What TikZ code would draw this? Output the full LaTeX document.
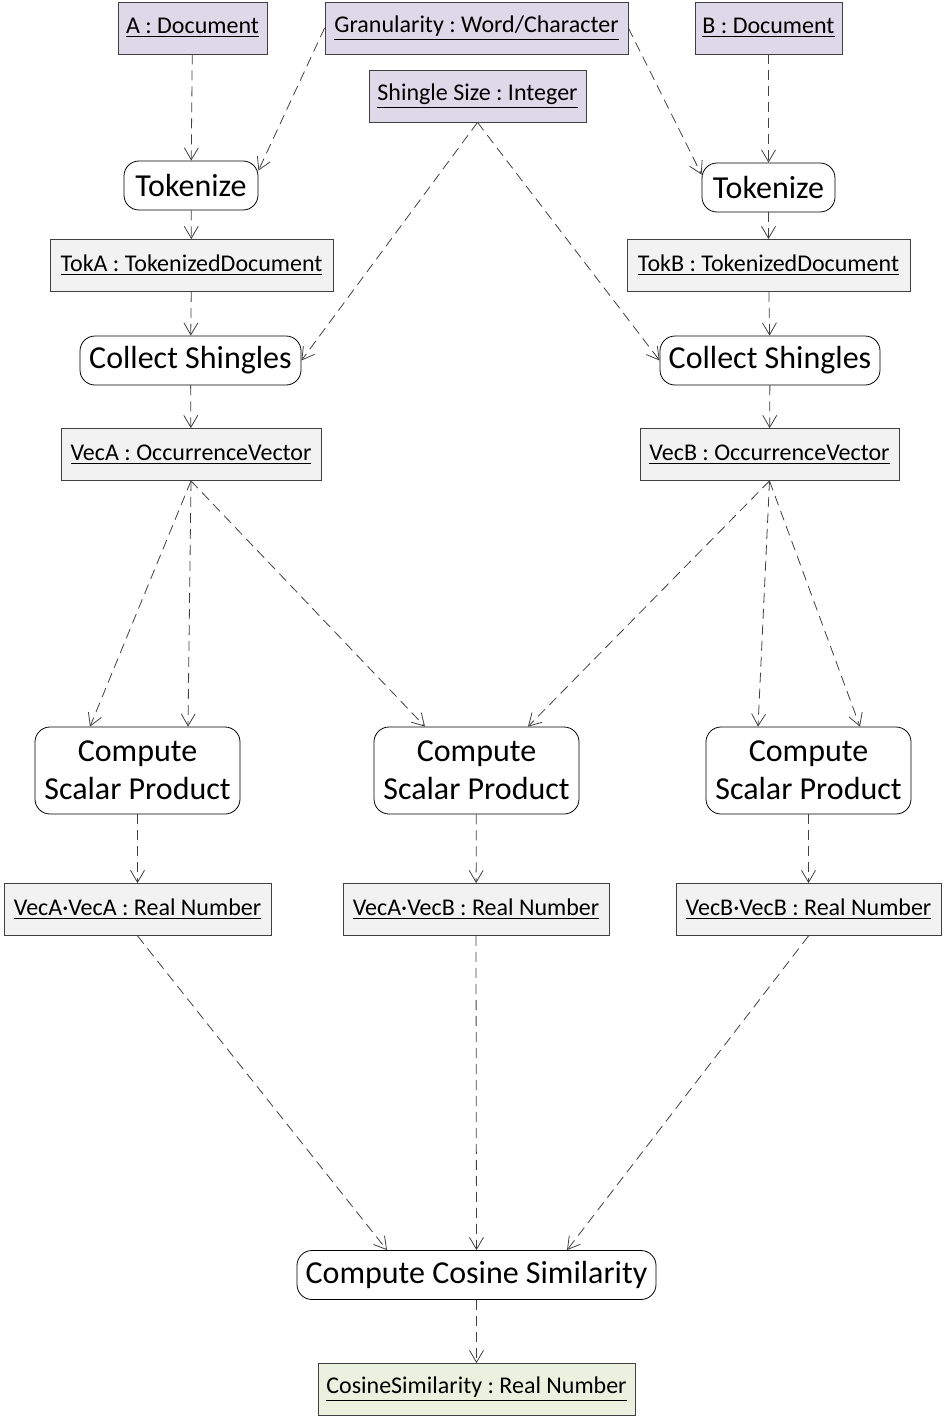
\documentclass[tikz,border=0pt]{standalone}
\usepackage{fontspec}
\setmainfont{Carlito}
\frenchspacing
\usetikzlibrary{positioning}
\usetikzlibrary{arrows.meta}
\definecolor{objPurple}{RGB}{221,217,232}
\definecolor{objGray}{RGB}{242,242,242}
\definecolor{objGreen}{RGB}{235,241,222}
\definecolor{lineGray}{RGB}{64,64,64}
\tikzset{
    object/.style={draw=lineGray, fill=objGray, thin, inner xsep=3pt, minimum height=26pt,
        font=\fontsize{12}{14}\selectfont},
    inputObj/.style={object, fill=objPurple},
    resultObj/.style={object, fill=objGreen},
    action/.style={draw=black, thin, rounded corners=7.5pt, fill=white, inner xsep=3pt,
        minimum height=24.5pt, align=center, font=\fontsize{16}{19}\selectfont},
    flow/.style={draw=lineGray, thin, dash pattern=on 5pt off 3pt,
        -{Straight Barb[length=6pt,width=7pt]}}
}
\begin{document}
\begin{tikzpicture}[x=0.5pt, y=-0.5pt]
    \useasboundingbox (0,0) rectangle (946,1418);
    % inputs
    \node[inputObj, minimum width=74.5pt] (docA) at (192.5,28) {\underline{A : Document}};
    \node[inputObj, minimum width=151.5pt] (gran) at (476.5,28) {\underline{Granularity : Word/Character}};
    \node[inputObj, minimum width=73.5pt] (docB) at (768.5,28) {\underline{B : Document}};
    \node[inputObj, minimum width=108.5pt] (shingle) at (477.5,96) {\underline{Shingle Size : Integer}};
    % tokenizing and shingles
    \node[action, minimum width=67pt] (tokenizeA) at (191,185.5) {Tokenize};
    \node[action, minimum width=66.5pt] (tokenizeB) at (768.5,187.5) {Tokenize};
    \node[object, minimum width=141.5pt] (tokDocA) at (191.5,265.5) {\underline{TokA : TokenizedDocument}};
    \node[object, minimum width=141.5pt] (tokDocB) at (768.5,265.5) {\underline{TokB : TokenizedDocument}};
    \node[action, minimum width=110.5pt] (collectA) at (190.5,360.5) {Collect Shingles};
    \node[action, minimum width=110pt] (collectB) at (770,360.5) {Collect Shingles};
    \node[object, minimum width=130pt] (vecA) at (191,454.5) {\underline{VecA : OccurrenceVector}};
    \node[object, minimum width=129.5pt] (vecB) at (769.5,454.5) {\underline{VecB : OccurrenceVector}};
    % scalar products
    \node[action, minimum width=102.5pt, minimum height=43.5pt] (prodAA) at (137.5,770.5) {Compute\\Scalar Product};
    \node[action, minimum width=102.5pt, minimum height=43.5pt] (prodAB) at (476.5,770.5) {Compute\\Scalar Product};
    \node[action, minimum width=102.5pt, minimum height=43.5pt] (prodBB) at (808.5,770.5) {Compute\\Scalar Product};
    \node[object, minimum width=133.5pt] (dotAA) at (137.5,909.5) {\underline{VecA·VecA : Real Number}};
    \node[object, minimum width=133pt] (dotAB) at (476,909.5) {\underline{VecA·VecB : Real Number}};
    \node[object, minimum width=132.5pt] (dotBB) at (808.5,909.5) {\underline{VecB·VecB : Real Number}};
    % result
    \node[action, minimum width=179.5pt] (cosine) at (476.5,1275) {Compute Cosine Similarity};
    \node[resultObj, minimum width=158.5pt] (result) at (476.5,1389.5) {\underline{CosineSimilarity : Real Number}};

    \draw[flow] (docA) -- (tokenizeA);
    \draw[flow] (gran.west) -- ([yshift=-5pt]tokenizeA.north east);
    \draw[flow] (gran.east) -- ([yshift=-6pt]tokenizeB.north west);
    \draw[flow] (docB) -- (tokenizeB);
    \draw[flow] (tokenizeA) -- (tokDocA);
    \draw[flow] (tokenizeB) -- (tokDocB);
    \draw[flow] (tokDocA) -- (collectA);
    \draw[flow] (tokDocB) -- (collectB);
    \draw[flow] (shingle.south) -- (collectA.east);
    \draw[flow] (shingle.south) -- (collectB.west);
    \draw[flow] (collectA) -- (vecA);
    \draw[flow] (collectB) -- (vecB);
    \draw[flow] (vecA.south) -- ([xshift=-23.75pt]prodAA.north);
    \draw[flow] (vecA.south) -- ([xshift=25.25pt]prodAA.north);
    \draw[flow] (vecA.south) -- ([xshift=-25.75pt]prodAB.north);
    \draw[flow] (vecB.south) -- ([xshift=25.75pt]prodAB.north);
    \draw[flow] (vecB.south) -- ([xshift=-25.25pt]prodBB.north);
    \draw[flow] (vecB.south) -- ([xshift=25.75pt]prodBB.north);
    \draw[flow] (prodAA) -- (dotAA);
    \draw[flow] (prodAB) -- (dotAB);
    \draw[flow] (prodBB) -- (dotBB);
    \draw[flow] (dotAA.south) -- ([xshift=-44.75pt]cosine.north);
    \draw[flow] (dotAB.south) -- (cosine.north);
    \draw[flow] (dotBB.south) -- ([xshift=45.25pt]cosine.north);
    \draw[flow] (cosine) -- (result);
\end{tikzpicture}
\end{document}
